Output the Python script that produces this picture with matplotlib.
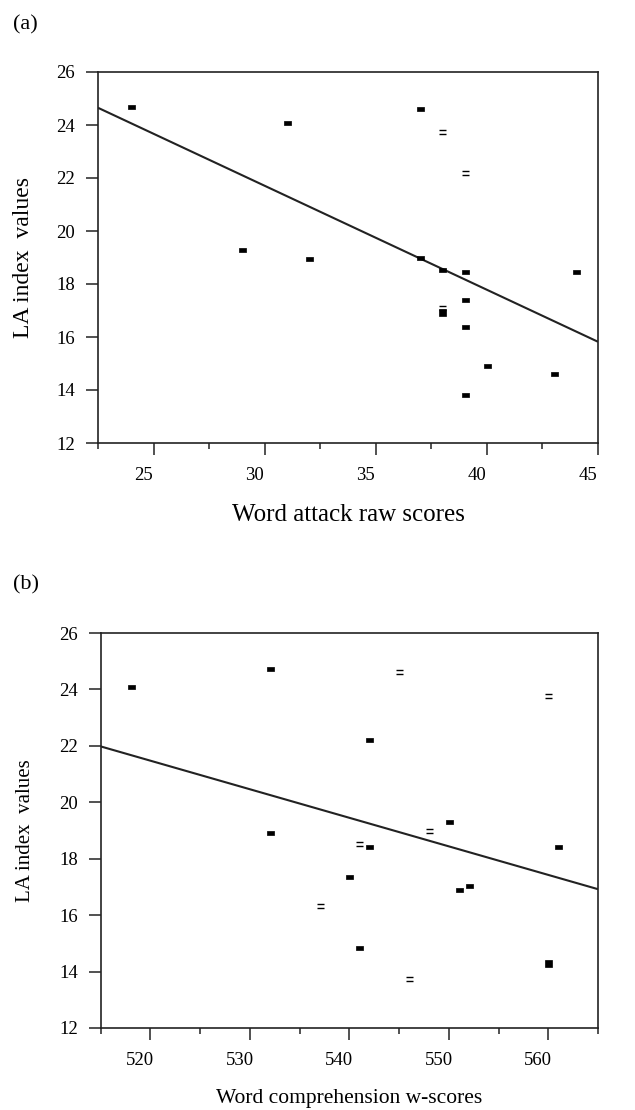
import matplotlib
matplotlib.use("Agg")
import matplotlib.pyplot as plt
import matplotlib.transforms as mtransforms
from matplotlib.path import Path
from matplotlib.ticker import MultipleLocator

plt.rcParams["font.family"] = ["Liberation Serif", "DejaVu Serif"]

# panel (a): word attack raw scores vs LA index
a_solid_x = [24, 31, 37, 29, 32, 37, 38, 39, 44, 39, 39, 40, 43, 39]
a_solid_y = [24.67, 24.08, 24.62, 19.29, 18.94, 18.99, 18.53, 18.46, 18.46, 17.40, 16.38, 14.89, 14.59, 13.82]
a_open_x = [38, 39, 38]
a_open_y = [23.74, 22.20, 17.11]
a_big_x = [38]
a_big_y = [16.94]
a_fit_x = [22.5, 45]
a_fit_y = [24.65, 15.82]

# panel (b): word comprehension w-scores vs LA index
b_solid_x = [518, 532, 542, 532, 542, 550, 561, 540, 551, 552, 541]
b_solid_y = [24.08, 24.72, 22.19, 18.90, 18.43, 19.30, 18.43, 17.35, 16.89, 17.04, 14.85]
b_open_x = [545, 560, 541, 548, 537, 546]
b_open_y = [24.62, 23.76, 18.52, 18.99, 16.33, 13.75]
b_big_x = [560]
b_big_y = [14.29]
b_fit_x = [515, 565]
b_fit_y = [21.98, 16.92]

DASH = Path([(-1, -0.5), (1, -0.5), (1, 0.5), (-1, 0.5), (-1, -0.5)],
            [Path.MOVETO, Path.LINETO, Path.LINETO, Path.LINETO, Path.CLOSEPOLY])
EQUALS = Path([(-1, -0.7), (1, -0.7), (-1, 0.7), (1, 0.7)],
              [Path.MOVETO, Path.LINETO, Path.MOVETO, Path.LINETO])
PX = 72 / 100  # points per pixel


def draw_panel(ax, solid, opened, big, fit, xlim, xmajor, xlabel, xlabel_size,
               ylabel_size, ylabel_pad):
    ax.plot(fit[0], fit[1], color="#222222", lw=1.5, solid_capstyle="butt")
    ax.plot(solid[0], solid[1], ls="none", marker=DASH, ms=7 * PX, mfc="black", mec="black", mew=0.5)
    ax.plot(opened[0], opened[1], ls="none", marker=EQUALS, ms=7 * PX, mfc="none", mec="black", mew=1.0)
    ax.plot(big[0], big[1], ls="none", marker="s", ms=7 * PX, mfc="black", mec="black", mew=0.5)

    ax.set_xlim(*xlim)
    ax.set_ylim(12, 26)
    ax.xaxis.set_major_locator(MultipleLocator(xmajor))
    ax.xaxis.set_minor_locator(MultipleLocator(xmajor / 2))
    ax.yaxis.set_major_locator(MultipleLocator(2))
    ax.tick_params(axis="both", which="major", direction="out", length=8.5, width=1.1,
                   labelsize=13.5, color="#222222")
    ax.tick_params(axis="x", which="minor", direction="out", length=4.5, width=1.1, color="#222222")
    ax.tick_params(axis="x", which="major", pad=9)
    ax.tick_params(axis="y", which="major", pad=8)
    for s in ax.spines.values():
        s.set_linewidth(1.2)
        s.set_color("#222222")

    # tick labels in the source sit a little left of their ticks
    shift = mtransforms.ScaledTranslation(-10 / 100, 0, ax.figure.dpi_scale_trans)
    for lab in ax.get_xticklabels():
        lab.set_transform(lab.get_transform() + shift)

    ax.set_xlabel(xlabel, fontsize=xlabel_size, labelpad=14)
    ax.set_ylabel("LA index  values", fontsize=ylabel_size, labelpad=ylabel_pad)


fig = plt.figure(figsize=(6.35, 11.1), dpi=100)
ax_a = fig.add_axes([98 / 635, 667 / 1110, 500 / 635, 371 / 1110])
ax_b = fig.add_axes([100.7 / 635, 82 / 1110, 497.3 / 635, 395 / 1110])

draw_panel(ax_a, (a_solid_x, a_solid_y), (a_open_x, a_open_y), (a_big_x, a_big_y),
           (a_fit_x, a_fit_y), (22.5, 45), 5, "Word attack raw scores", 18, 17, 16)
draw_panel(ax_b, (b_solid_x, b_solid_y), (b_open_x, b_open_y), (b_big_x, b_big_y),
           (b_fit_x, b_fit_y), (515, 565), 10, "Word comprehension w-scores", 15.5, 15, 17)

fig.text(13 / 635, 1 - 25 / 1110, "(a)", fontsize=16, va="center", ha="left")
fig.text(13 / 635, 1 - 585 / 1110, "(b)", fontsize=16, va="center", ha="left")

fig.savefig("out.png", dpi=100, facecolor="white")
